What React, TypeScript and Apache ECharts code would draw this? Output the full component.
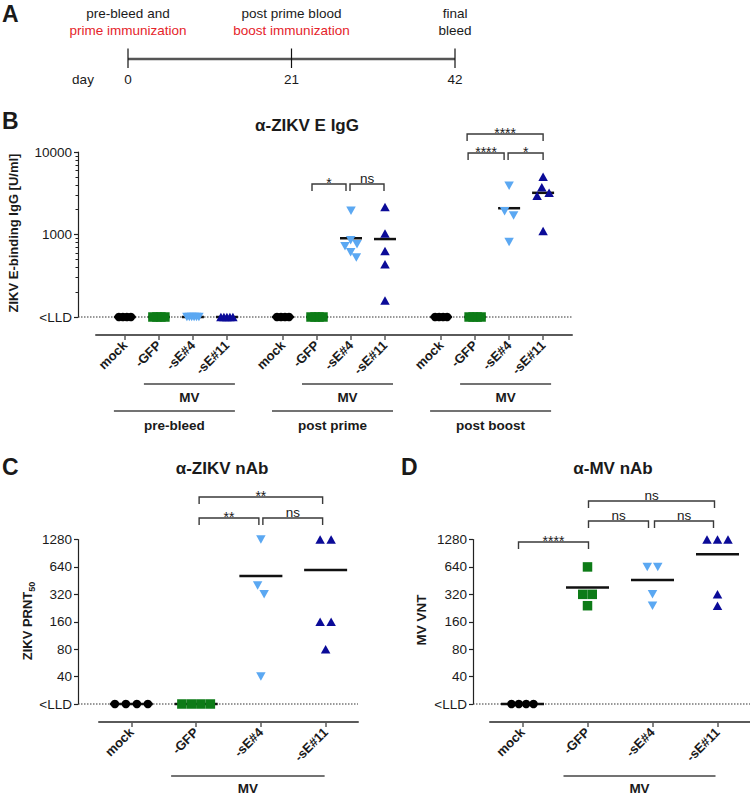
import React, { useEffect, useRef } from 'react';
import * as echarts from 'echarts';

const FONT = "'Liberation Sans', Arial, Helvetica, sans-serif";

// ---------------- Panel A (timeline) ----------------
const TIMELINE_DAYS = [0, 21, 42];
const TIMELINE_EVENTS = ['pre-bleed and', 'post prime blood', 'final'];
const TIMELINE_ACTIONS = ['prime immunization', 'boost immunization', 'bleed'];
const TIMELINE_ACTION_IS_IMMUNIZATION = [true, true, false];

// ---------------- groups ----------------
const GROUP_NAMES = ['mock', '-GFP', '-sE#4', '-sE#11'];
const VECTOR_LABEL = 'MV';

// ---------------- Panel B : ZIKV E-binding IgG [U/ml] ----------------
const B_TITLE = 'α-ZIKV E IgG';
const B_YNAME = 'ZIKV E-binding IgG [U/ml]';
const B_TIMEPOINTS = ['pre-bleed', 'post prime', 'post boost'];
const B_LLD = 100;
const B_TICK_VALUES = [100, 1000, 10000];
const B_TICK_LABELS = ['<LLD', '1000', '10000'];
const B_MINOR_TICKS = [200, 300, 400, 500, 600, 700, 800, 900, 2000, 3000, 4000, 5000, 6000, 7000, 8000, 9000];

const bPreMock = [B_LLD, B_LLD, B_LLD, B_LLD];
const bPreGFP = [B_LLD, B_LLD, B_LLD, B_LLD];
const bPreSE4 = [B_LLD, B_LLD, B_LLD, B_LLD, B_LLD, B_LLD];
const bPreSE11 = [B_LLD, B_LLD, B_LLD, B_LLD, B_LLD];
const bPrimeMock = [B_LLD, B_LLD, B_LLD, B_LLD];
const bPrimeGFP = [B_LLD, B_LLD, B_LLD, B_LLD];
const bPrimeSE4 = [1940, 850, 760, 720, 610, 525];
const bPrimeSE11 = [2150, 1030, 630, 435, 158];
const bBoostMock = [B_LLD, B_LLD, B_LLD, B_LLD];
const bBoostGFP = [B_LLD, B_LLD, B_LLD, B_LLD];
const bBoostSE4 = [3900, 1920, 1700, 810];
const bBoostSE11 = [5000, 3750, 3200, 2950, 1100];

// statistics (timepoint, group a, group b, label)
const B_COMPARISONS = [
  { tp: 1, a: 1, b: 2, label: '*' },
  { tp: 1, a: 2, b: 3, label: 'ns' },
  { tp: 2, a: 1, b: 2, label: '****' },
  { tp: 2, a: 2, b: 3, label: '*' },
  { tp: 2, a: 1, b: 3, label: '****' },
];

// ---------------- Panels C / D ----------------
const C_TITLE = 'α-ZIKV nAb';
const D_TITLE = 'α-MV nAb';
const CD_LLD = 20;
const CD_TICK_LABELS = ['<LLD', '40', '80', '160', '320', '640', '1280'];

const cMock = [CD_LLD, CD_LLD, CD_LLD, CD_LLD];
const cGFP = [CD_LLD, CD_LLD, CD_LLD, CD_LLD];
const cSE4 = [1280, 400, 320, 40];
const cSE11 = [1280, 1280, 160, 160, 80];

const dMock = [CD_LLD, CD_LLD, CD_LLD, CD_LLD];
const dGFP = [640, 320, 320, 240];
const dSE4 = [640, 640, 320, 240];
const dSE11 = [1280, 1280, 1280, 320, 240];

const C_COMPARISONS = [
  { a: 1, b: 2, label: '**' },
  { a: 2, b: 3, label: 'ns' },
  { a: 1, b: 3, label: '**' },
];
const D_COMPARISONS = [
  { a: 0, b: 1, label: '****' },
  { a: 1, b: 2, label: 'ns' },
  { a: 2, b: 3, label: 'ns' },
  { a: 1, b: 3, label: 'ns' },
];

// ---------------- layout / styles ----------------
const B_GROUP_GAP = 1.65;
const LAYOUT = {
  B: { left: 96, top: 152, width: 476, height: 165, yOffset: 18, xOffset: 18, xMin: -0.85, xMax: 13.15 },
  C: { left: 99, top: 539.5, width: 259, height: 164.5, yOffset: 21, xOffset: 18, xMin: -0.5, xMax: 3.5 },
  D: { left: 490, top: 539.5, width: 260, height: 164.5, yOffset: 17, xOffset: 18, xMin: -0.5, xMax: 3.5 },
};
const B_BRACKET_LAYOUT = [
  { top: 184, dx: [-5, -5] },
  { top: 184, dx: [-1, -1] },
  { top: 153, dx: [-7, -5] },
  { top: 153, dx: [-1, 0] },
  { top: 134, dx: [-8, 0] },
];
const C_BRACKET_LAYOUT = [
  { top: 518, dx: [3, -2] },
  { top: 518, dx: [2, -3] },
  { top: 497, dx: [3, -3] },
];
const D_BRACKET_LAYOUT = [
  { top: 542, dx: [-4, 1] },
  { top: 521, dx: [1, -4] },
  { top: 521, dx: [2, -4] },
  { top: 501, dx: [1, -3] },
];

const GROUP_STYLES = [
  { symbol: 'circle', size: 8.5 as any, rotate: 0, color: '#000000', pack: 0 },
  { symbol: 'rect', size: 9.5 as any, rotate: 0, color: '#0d7b17', pack: 9.5 },
  { symbol: 'triangle', size: [9.5, 8.5] as any, rotate: 180, color: '#5ba8f2', pack: 0 },
  { symbol: 'triangle', size: [9.5, 8.5] as any, rotate: 0, color: '#0b0b98', pack: 0 },
];

const TEXT_COLOR = '#1a1a1a';
const LINE_COLOR = '#3a3a3a';

function nearestIndex(arr: number[], v: number) {
  let bi = 0;
  let bd = Infinity;
  arr.forEach((a, i) => {
    const d = Math.abs(a - v);
    if (d < bd) {
      bd = d;
      bi = i;
    }
  });
  return bi;
}

// beeswarm-like horizontal spreading of points that would overlap (pixel units)
function spreadOffsets(ysPx: number[], dist: number, maxWidth: number): number[] {
  const idx = ysPx.map((_, i) => i).sort((a, b) => ysPx[a] - ysPx[b]);
  const off = new Array(ysPx.length).fill(0);
  const clusters: number[][] = [];
  let cur: number[] = [];
  idx.forEach((i, k) => {
    if (k > 0 && ysPx[i] - ysPx[idx[k - 1]] >= dist) {
      clusters.push(cur);
      cur = [];
    }
    cur.push(i);
  });
  if (cur.length) clusters.push(cur);
  clusters.forEach((cl) => {
    const placed: number[] = [];
    cl.forEach((i) => {
      let best = 0;
      for (let step = 0; step < 800; step++) {
        const cand = step === 0 ? 0 : (step % 2 ? 1 : -1) * Math.ceil(step / 2) * 0.5;
        const ok = placed.every((j) => Math.hypot(cand - off[j], ysPx[i] - ysPx[j]) >= dist - 1e-6);
        if (ok) {
          best = cand;
          break;
        }
      }
      off[i] = best;
      placed.push(i);
    });
    const vals = cl.map((i) => off[i]);
    const mn = Math.min(...vals);
    const mx = Math.max(...vals);
    const mid = (mn + mx) / 2;
    const sc = mx - mn > maxWidth ? maxWidth / (mx - mn) : 1;
    cl.forEach((i) => {
      off[i] = (off[i] - mid) * sc;
    });
  });
  return off;
}

const bPositions = B_TIMEPOINTS.flatMap((_, t) =>
  GROUP_NAMES.map((__, i) => t * (GROUP_NAMES.length - 1 + B_GROUP_GAP) + i)
);
const bNames = B_TIMEPOINTS.flatMap(() => GROUP_NAMES);
const cdPositions = GROUP_NAMES.map((_, i) => i);

const bGroups = [
  bPreMock, bPreGFP, bPreSE4, bPreSE11,
  bPrimeMock, bPrimeGFP, bPrimeSE4, bPrimeSE11,
  bBoostMock, bBoostGFP, bBoostSE4, bBoostSE11,
];
const cGroups = [cMock, cGFP, cSE4, cSE11];
const dGroups = [dMock, dGFP, dSE4, dSE11];

const toLog2 = (v: number) => Math.log2(v / CD_LLD);

type PanelDef = {
  xAxisIndex: number;
  yAxisIndex: number;
  positions: number[];
  groups: number[][];
  toY: (v: number) => number;
  dist: number;
  maxWidth: number;
  meanWidth: number;
};

const PANELS: PanelDef[] = [
  { xAxisIndex: 0, yAxisIndex: 0, positions: bPositions, groups: bGroups, toY: (v) => v, dist: 10, maxWidth: 12, meanWidth: 22 },
  { xAxisIndex: 1, yAxisIndex: 1, positions: cdPositions, groups: cGroups, toY: toLog2, dist: 10.7, maxWidth: 34, meanWidth: 43 },
  { xAxisIndex: 2, yAxisIndex: 2, positions: cdPositions, groups: dGroups, toY: toLog2, dist: 10.5, maxWidth: 22, meanWidth: 43 },
];

function xAxisDef(gridIndex: number, L: any, positions: number[], names: string[]) {
  return {
    type: 'value',
    gridIndex,
    min: L.xMin,
    max: L.xMax,
    offset: L.xOffset,
    position: 'bottom',
    axisLine: { show: true, onZero: false, lineStyle: { color: '#5a5a5a', width: 2 } },
    axisTick: { show: true, length: 5, customValues: positions, lineStyle: { color: '#5a5a5a', width: 1.5 } },
    axisLabel: {
      show: true,
      customValues: positions,
      rotate: 45,
      margin: 8,
      fontFamily: FONT,
      fontSize: 13,
      fontWeight: 'bold',
      color: TEXT_COLOR,
      formatter: (v: number) => names[nearestIndex(positions, v)],
    },
    splitLine: { show: false },
  };
}

function yAxisBase(gridIndex: number, offset: number) {
  return {
    gridIndex,
    position: 'left',
    offset,
    axisLine: { show: true, onZero: false, lineStyle: { color: '#222', width: 1.2 } },
    axisTick: { show: true, length: 4, lineStyle: { color: '#222', width: 1.2 } },
    splitLine: { show: false },
  };
}

function buildBaseOption() {
  const gridOf = (L: any) => ({
    left: L.left,
    top: L.top,
    width: L.width,
    height: L.height,
    containLabel: false,
    outerBoundsMode: 'none',
  });
  return {
    animation: false,
    textStyle: { fontFamily: FONT },
    grid: [gridOf(LAYOUT.B), gridOf(LAYOUT.C), gridOf(LAYOUT.D)],
    xAxis: [
      xAxisDef(0, LAYOUT.B, bPositions, bNames),
      xAxisDef(1, LAYOUT.C, cdPositions, GROUP_NAMES),
      xAxisDef(2, LAYOUT.D, cdPositions, GROUP_NAMES),
    ],
    yAxis: [
      {
        ...yAxisBase(0, LAYOUT.B.yOffset),
        type: 'log',
        logBase: 10,
        min: B_TICK_VALUES[0],
        max: B_TICK_VALUES[B_TICK_VALUES.length - 1],
        axisLabel: {
          margin: 6,
          fontFamily: FONT,
          fontSize: 13.5,
          color: TEXT_COLOR,
          formatter: (v: number) =>
            B_TICK_LABELS[nearestIndex(B_TICK_VALUES.map((t) => Math.log10(t)), Math.log10(v))],
        },
      },
      {
        ...yAxisBase(1, LAYOUT.C.yOffset),
        type: 'value',
        min: 0,
        max: CD_TICK_LABELS.length - 1,
        interval: 1,
        axisLabel: {
          margin: 6,
          fontFamily: FONT,
          fontSize: 13.5,
          color: TEXT_COLOR,
          formatter: (v: number) => CD_TICK_LABELS[Math.round(v)],
        },
      },
      {
        ...yAxisBase(2, LAYOUT.D.yOffset),
        type: 'value',
        min: 0,
        max: CD_TICK_LABELS.length - 1,
        interval: 1,
        axisLabel: {
          margin: 6,
          fontFamily: FONT,
          fontSize: 13.5,
          color: TEXT_COLOR,
          formatter: (v: number) => CD_TICK_LABELS[Math.round(v)],
        },
      },
      {
        gridIndex: 0,
        type: 'log',
        logBase: 10,
        position: 'left',
        offset: LAYOUT.B.yOffset,
        min: B_TICK_VALUES[0],
        max: B_TICK_VALUES[B_TICK_VALUES.length - 1],
        axisLine: { show: false, onZero: false },
        axisTick: { show: true, length: 2.5, customValues: B_MINOR_TICKS, lineStyle: { color: '#222', width: 1 } },
        axisLabel: { show: false },
        splitLine: { show: false },
      },
    ],
    series: [],
  };
}

function buildSeries(chart: any) {
  const out: any[] = [];
  PANELS.forEach((p) => {
    const px0 = chart.convertToPixel({ xAxisIndex: p.xAxisIndex }, 0);
    const px1 = chart.convertToPixel({ xAxisIndex: p.xAxisIndex }, 1);
    const pxPerUnit = px1 - px0;
    const meanData: number[][] = [];
    p.groups.forEach((vals, gi) => {
      const x0 = p.positions[gi];
      const st = GROUP_STYLES[gi % GROUP_NAMES.length];
      const ys = vals.map(p.toY);
      const ysPx = ys.map((y) => chart.convertToPixel({ yAxisIndex: p.yAxisIndex }, y));
      const dist = st.pack ? Math.min(st.pack, p.dist) : p.dist;
      const offs = spreadOffsets(ysPx, dist, p.maxWidth);
      out.push({
        type: 'scatter',
        xAxisIndex: p.xAxisIndex,
        yAxisIndex: p.yAxisIndex,
        symbol: st.symbol,
        symbolSize: st.size,
        symbolRotate: st.rotate,
        itemStyle: { color: st.color, opacity: 1 },
        silent: true,
        clip: false,
        z: 3,
        data: vals.map((_, i) => [x0 + offs[i] / pxPerUnit, ys[i]]),
      });
      const mean = vals.reduce((a, b) => a + b, 0) / vals.length;
      meanData.push([x0, p.toY(mean)]);
    });
    out.push({
      type: 'scatter',
      xAxisIndex: p.xAxisIndex,
      yAxisIndex: p.yAxisIndex,
      symbol: 'rect',
      symbolSize: [p.meanWidth, 2.5],
      itemStyle: { color: '#111', opacity: 1 },
      silent: true,
      clip: false,
      z: 2,
      data: meanData,
    });
  });
  return out;
}

function txt(text: string, x: number, y: number, o: any = {}) {
  return {
    type: 'text',
    x,
    y,
    rotation: o.rotation || 0,
    silent: true,
    z: 10,
    style: {
      text,
      fill: o.color || TEXT_COLOR,
      fontSize: o.size || 13,
      fontWeight: o.bold ? 'bold' : 'normal',
      fontFamily: FONT,
      textAlign: o.align || 'center',
      textVerticalAlign: o.valign || 'middle',
      rich: o.rich,
    },
  };
}

function seg(x1: number, y1: number, x2: number, y2: number, o: any = {}) {
  return {
    type: 'line',
    silent: true,
    z: o.z ?? 5,
    shape: { x1, y1, x2, y2 },
    style: { stroke: o.color || LINE_COLOR, lineWidth: o.width || 1.5, lineDash: o.dash },
  };
}

function bracket(x1: number, x2: number, top: number, label: string) {
  const foot = 7;
  const isStar = label.indexOf('*') >= 0;
  return [
    {
      type: 'polyline',
      silent: true,
      z: 5,
      shape: { points: [[x1, top + foot], [x1, top], [x2, top], [x2, top + foot]] },
      style: { stroke: LINE_COLOR, lineWidth: 1.4, fill: 'none' },
    },
    txt(label, (x1 + x2) / 2, isStar ? top - 1.5 : top - 6, { size: isStar ? 14 : 13.5 }),
  ];
}

function buildGraphic(chart: any) {
  const g: any[] = [];
  const xPx = (axis: number, v: number) => chart.convertToPixel({ xAxisIndex: axis }, v);

  // ---------- Panel A ----------
  g.push(txt('A', 2, 14, { size: 23, bold: true, align: 'left' }));
  const tlLeft = 128;
  const tlRight = 455;
  const maxDay = TIMELINE_DAYS[TIMELINE_DAYS.length - 1];
  const tx = (d: number) => tlLeft + (d / maxDay) * (tlRight - tlLeft);
  g.push(seg(tlLeft, 59, tlRight, 59, { color: '#555', width: 2.5 }));
  TIMELINE_DAYS.forEach((d, i) => {
    g.push(seg(tx(d), 48.5, tx(d), 68, { color: '#111', width: 1.2 }));
    g.push(txt(String(d), tx(d), 79, { size: 13.5 }));
    g.push(txt(TIMELINE_EVENTS[i], tx(d), 13, { size: 13.5 }));
    g.push(
      txt(TIMELINE_ACTIONS[i], tx(d), 30, {
        size: 13.5,
        color: TIMELINE_ACTION_IS_IMMUNIZATION[i] ? '#e5232a' : TEXT_COLOR,
      })
    );
  });
  g.push(txt('day', 83, 79, { size: 13.5 }));

  // ---------- Panel B ----------
  const LB = LAYOUT.B;
  g.push(txt('B', 2, 121, { size: 23, bold: true, align: 'left' }));
  g.push(txt(B_TITLE, 307, 125, { size: 17, bold: true }));
  g.push(txt(B_YNAME, 13, 233, { size: 13, bold: true, rotation: Math.PI / 2 }));
  const bLLDy = chart.convertToPixel({ yAxisIndex: 0 }, B_LLD);
  g.push(seg(LB.left - LB.yOffset, bLLDy, LB.left + LB.width, bLLDy, { color: '#333', width: 1.2, dash: [1.5, 1.5], z: 1 }));
  B_COMPARISONS.forEach((c, k) => {
    const base = c.tp * GROUP_NAMES.length;
    const lay = B_BRACKET_LAYOUT[k];
    g.push(...bracket(xPx(0, bPositions[base + c.a]) + lay.dx[0], xPx(0, bPositions[base + c.b]) + lay.dx[1], lay.top, c.label));
  });
  B_TIMEPOINTS.forEach((tp, t) => {
    const base = t * GROUP_NAMES.length;
    const xMock = xPx(0, bPositions[base]);
    const xGFP = xPx(0, bPositions[base + 1]);
    const xLast = xPx(0, bPositions[base + 3]);
    const mvL = xGFP - 15;
    const mvR = xLast + 8;
    g.push(seg(mvL, 384, mvR, 384, { color: '#444', width: 1.5 }));
    g.push(txt(VECTOR_LABEL, (mvL + mvR) / 2, 397.5, { size: 13.5, bold: true }));
    const tpL = xMock - 11;
    g.push(seg(tpL, 411, mvR, 411, { color: '#444', width: 1.5 }));
    g.push(txt(tp, (tpL + mvR) / 2, 425, { size: 13.5, bold: true }));
  });

  // ---------- Panels C / D ----------
  const cdPanels = [
    { L: LAYOUT.C, ax: 1, letter: 'C', letterX: 2, title: C_TITLE, titleX: 222, comps: C_COMPARISONS, lay: C_BRACKET_LAYOUT, mvDx: [-25, -1] },
    { L: LAYOUT.D, ax: 2, letter: 'D', letterX: 401, title: D_TITLE, titleX: 613, comps: D_COMPARISONS, lay: D_BRACKET_LAYOUT, mvDx: [-24, -2] },
  ];
  cdPanels.forEach((p) => {
    g.push(txt(p.letter, p.letterX, 467, { size: 23, bold: true, align: 'left' }));
    g.push(txt(p.title, p.titleX, 468, { size: 17, bold: true }));
    const lldY = chart.convertToPixel({ yAxisIndex: p.ax }, 0);
    g.push(seg(p.L.left - p.L.yOffset, lldY, p.L.left + p.L.width, lldY, { color: '#333', width: 1.2, dash: [1.5, 1.5], z: 1 }));
    p.comps.forEach((c, k) => {
      const lay = p.lay[k];
      g.push(...bracket(xPx(p.ax, cdPositions[c.a]) + lay.dx[0], xPx(p.ax, cdPositions[c.b]) + lay.dx[1], lay.top, c.label));
    });
    const mvL = xPx(p.ax, cdPositions[1]) + p.mvDx[0];
    const mvR = xPx(p.ax, cdPositions[3]) + p.mvDx[1];
    g.push(seg(mvL, 776, mvR, 776, { color: '#444', width: 1.5 }));
    g.push(txt(VECTOR_LABEL, (mvL + mvR) / 2, 788, { size: 13.5, bold: true }));
  });
  g.push(
    txt('{a|ZIKV PRNT}{b|50}', 27, 621, {
      rotation: Math.PI / 2,
      rich: {
        a: { fontSize: 13, fontWeight: 'bold', fontFamily: FONT, fill: TEXT_COLOR, lineHeight: 18 },
        b: { fontSize: 9, fontWeight: 'bold', fontFamily: FONT, fill: TEXT_COLOR, verticalAlign: 'bottom' },
      },
    })
  );
  g.push(txt('MV VNT', 421, 620, { size: 13.5, bold: true, rotation: Math.PI / 2 }));

  return g;
}

export default function App() {
  const ref = useRef<HTMLDivElement>(null);
  useEffect(() => {
    document.body.style.margin = '0';
    const chart = echarts.init(ref.current as HTMLDivElement, null, { renderer: 'svg' });
    chart.setOption(buildBaseOption() as any);
    const series = buildSeries(chart);
    const graphic = buildGraphic(chart);
    chart.setOption({ series, graphic } as any);
    return () => chart.dispose();
  }, []);
  return <div ref={ref} style={{ width: 750, height: 794 }} />;
}
